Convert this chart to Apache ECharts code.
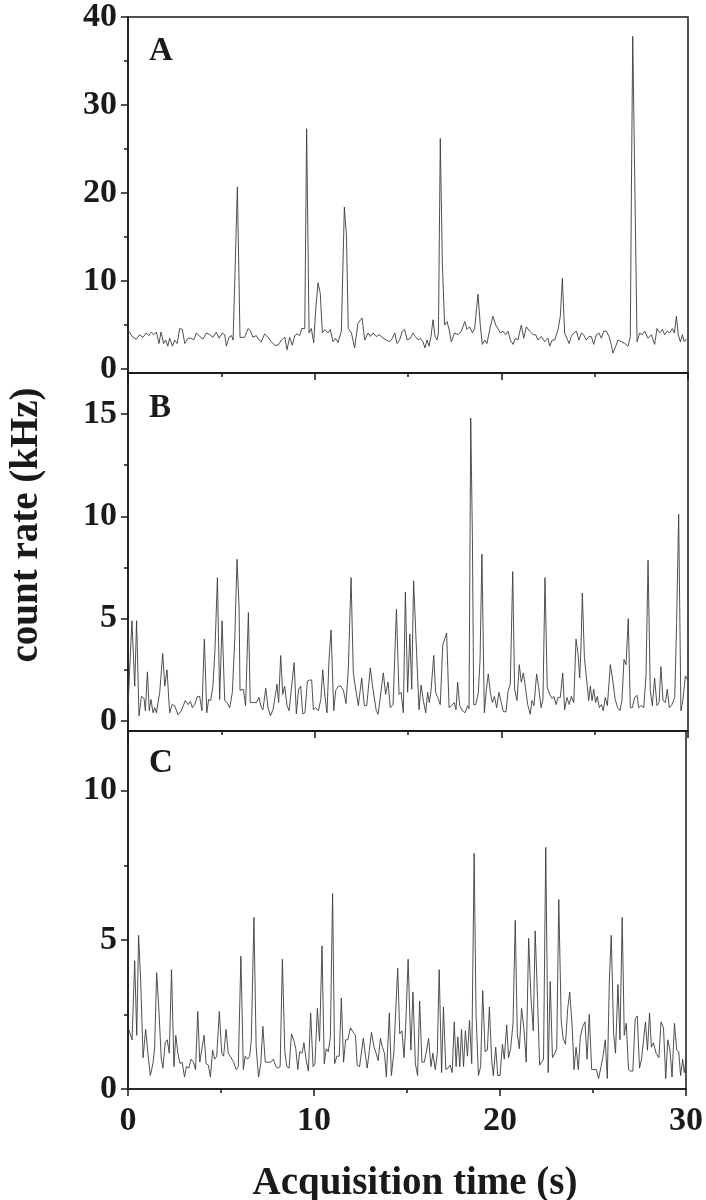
<!DOCTYPE html>
<html>
<head>
<meta charset="utf-8">
<script src="https://cdn.jsdelivr.net/npm/echarts@6/dist/echarts.min.js"></script>
<style>
  html, body { margin: 0; padding: 0; background: #fff; }
  #chart { width: 706px; height: 1200px; }
</style>
</head>
<body>
<div id="chart"></div>
<script>
// [time (s), count rate (kHz)]
const traceA = [
  [0.05,4.3],[0.26,3.6],[0.45,3.4],[0.62,3.9],[0.8,3.6],[0.98,4.1],[1.12,3.8],[1.25,4.2],[1.38,3.9],[1.52,4.2],
  [1.66,2.9],[1.77,4.2],[1.91,2.9],[2.02,3.3],[2.13,2.6],[2.23,3.5],[2.38,2.6],[2.5,3.3],[2.63,2.9],[2.77,4.6],
  [2.91,4.5],[3.04,2.9],[3.22,3.5],[3.39,3.5],[3.52,3.3],[3.66,4.1],[3.84,3.7],[4.02,3.4],[4.2,4.1],[4.38,3.9],
  [4.55,3.6],[4.73,4.2],[4.88,3.5],[5.06,4.1],[5.18,3.9],[5.27,2.6],[5.41,3.6],[5.54,3.8],[5.63,3.3],[5.73,3.3],
  [5.86,20.7],[6.0,3.6],[6.09,3.4],[6.25,3.6],[6.43,4.6],[6.55,4.4],[6.69,3.6],[6.87,3.8],[7.02,3.3],[7.14,3.1],
  [7.32,4.0],[7.5,3.6],[7.68,3.1],[7.86,2.7],[8.04,2.7],[8.22,3.3],[8.4,3.6],[8.52,2.2],[8.66,3.6],[8.8,2.7],
  [8.93,3.8],[9.07,4.0],[9.2,3.8],[9.3,4.6],[9.47,4.6],[9.57,27.3],[9.7,4.1],[9.82,4.6],[9.95,3.0],[10.05,6.6],
  [10.18,9.8],[10.3,8.6],[10.41,4.1],[10.54,4.5],[10.71,4.1],[10.84,4.5],[10.98,3.1],[11.12,3.5],[11.25,3.0],[11.43,4.3],
  [11.59,18.4],[11.7,15.3],[11.8,4.6],[11.97,4.1],[12.14,2.4],[12.32,5.2],[12.54,5.8],[12.68,3.3],[12.86,4.1],[12.98,3.7],
  [13.13,4.1],[13.3,3.7],[13.48,3.9],[13.66,3.5],[13.84,3.3],[14.02,3.1],[14.16,3.5],[14.29,4.1],[14.41,2.9],[14.55,3.3],
  [14.7,4.3],[14.82,4.5],[14.96,3.3],[15.13,3.5],[15.27,4.1],[15.39,3.7],[15.54,3.3],[15.66,3.5],[15.8,3.1],[15.91,2.4],
  [16.02,3.3],[16.13,2.6],[16.23,3.7],[16.34,5.6],[16.45,3.7],[16.55,3.3],[16.63,4.1],[16.73,26.2],[16.84,12.0],[16.96,5.0],
  [17.09,5.4],[17.2,4.5],[17.32,3.1],[17.5,4.1],[17.68,3.9],[17.86,4.3],[18.04,5.4],[18.16,4.5],[18.3,4.8],[18.45,4.1],
  [18.57,4.6],[18.75,8.5],[18.88,4.8],[18.98,2.8],[19.11,3.3],[19.23,2.9],[19.38,4.5],[19.55,6.0],[19.7,5.0],[19.82,4.6],
  [19.95,4.1],[20.09,4.3],[20.23,3.9],[20.36,4.3],[20.48,3.3],[20.63,2.8],[20.75,3.5],[20.89,3.3],[21.07,5.0],[21.2,3.5],
  [21.34,4.8],[21.52,4.3],[21.7,3.9],[21.84,3.9],[21.96,3.3],[22.14,3.7],[22.32,3.1],[22.5,3.5],[22.59,2.6],[22.73,3.3],
  [22.86,3.3],[23.04,4.5],[23.16,6.0],[23.27,10.3],[23.39,4.1],[23.48,4.3],[23.63,2.9],[23.75,3.7],[23.88,4.1],[24.02,4.3],
  [24.16,3.3],[24.29,4.1],[24.41,3.9],[24.55,3.3],[24.7,3.7],[24.82,3.7],[24.95,2.8],[25.09,3.9],[25.23,4.1],[25.36,3.5],
  [25.48,4.3],[25.63,4.3],[25.77,3.7],[25.89,2.8],[25.98,1.8],[26.13,2.6],[26.25,3.3],[26.43,3.1],[26.61,2.9],[26.79,2.6],
  [26.91,3.7],[26.98,23.5],[27.04,37.8],[27.27,3.1],[27.41,4.1],[27.55,3.9],[27.68,4.3],[27.86,3.5],[28.04,3.9],[28.21,2.8],
  [28.34,4.6],[28.48,4.1],[28.63,4.5],[28.75,3.9],[28.88,4.3],[29.02,4.1],[29.16,4.6],[29.27,4.1],[29.38,6.0],[29.48,3.9],
  [29.59,3.1],[29.7,3.9],[29.8,3.1],[29.91,3.4]
];

const traceB = [
  [0,0.7],[0.21,4.9],[0.36,1.7],[0.46,4.9],[0.59,0.25],[0.72,1.2],[0.86,1.1],[0.93,0.5],[1.04,2.4],[1.14,0.5],
  [1.23,1.05],[1.34,0.4],[1.43,0.65],[1.52,0.4],[1.61,0.4],[1.7,1.4],[1.86,3.3],[1.97,1.7],[2.09,2.5],[2.23,0.4],
  [2.36,0.8],[2.5,0.75],[2.68,0.3],[2.86,0.5],[3.07,1.0],[3.22,0.8],[3.34,0.95],[3.45,0.65],[3.57,0.8],[3.72,1.2],
  [3.84,1.2],[3.96,0.5],[4.09,4.0],[4.22,0.4],[4.32,1.05],[4.43,1.0],[4.55,1.7],[4.66,3.5],[4.79,7.0],[4.91,1.05],
  [5.04,4.9],[5.18,1.0],[5.3,0.9],[5.45,0.65],[5.59,1.4],[5.72,4.0],[5.84,7.9],[5.95,5.6],[6.0,1.5],[6.18,1.55],
  [6.3,0.75],[6.45,5.3],[6.55,0.9],[6.7,0.9],[6.88,0.9],[7.02,1.15],[7.14,0.65],[7.23,0.55],[7.38,1.6],[7.5,0.65],
  [7.63,0.25],[7.77,0.55],[7.9,1.3],[7.98,1.8],[8.07,0.9],[8.18,3.2],[8.29,1.3],[8.39,1.7],[8.52,0.75],[8.63,0.5],
  [8.75,1.55],[8.9,2.85],[9.02,0.35],[9.14,1.55],[9.25,1.7],[9.36,0.35],[9.48,0.4],[9.61,1.95],[9.73,2.0],[9.84,2.0],
  [9.93,0.55],[10.05,0.65],[10.2,0.5],[10.33,1.05],[10.43,2.5],[10.55,1.2],[10.66,0.4],[10.77,3.0],[10.88,4.45],[11.02,0.5],
  [11.13,1.5],[11.27,1.7],[11.41,1.7],[11.54,1.5],[11.68,0.85],[11.8,2.5],[11.95,7.0],[12.07,2.35],[12.2,1.55],[12.34,0.75],
  [12.52,2.1],[12.66,0.75],[12.79,0.75],[12.98,2.6],[13.1,1.7],[13.3,0.5],[13.4,0.33],[13.68,2.35],[13.8,1.3],[13.93,1.9],
  [14.05,0.65],[14.2,0.8],[14.38,5.45],[14.52,1.3],[14.63,1.4],[14.75,0.4],[14.86,6.3],[14.98,1.4],[15.1,4.25],[15.2,1.55],
  [15.3,6.85],[15.46,3.35],[15.59,0.55],[15.7,1.75],[15.82,1.0],[15.95,0.4],[16.05,1.4],[16.14,0.9],[16.23,1.45],[16.38,3.2],
  [16.48,1.4],[16.59,1.15],[16.73,0.8],[16.86,3.7],[17.07,4.3],[17.2,0.65],[17.34,0.75],[17.48,0.9],[17.57,0.55],[17.66,1.9],
  [17.77,0.75],[17.91,0.5],[18.05,0.4],[18.2,0.75],[18.27,0.6],[18.36,14.8],[18.45,9.0],[18.52,0.8],[18.63,0.8],[18.77,1.4],
  [18.86,3.0],[18.96,8.15],[19.09,0.4],[19.2,1.55],[19.3,2.3],[19.41,1.4],[19.52,0.9],[19.63,1.2],[19.75,0.65],[19.87,1.4],
  [20.0,0.9],[20.11,0.45],[20.25,0.45],[20.36,1.45],[20.48,1.8],[20.61,7.3],[20.71,1.55],[20.84,1.0],[20.96,2.75],[21.07,1.9],
  [21.18,2.35],[21.29,1.65],[21.41,0.8],[21.55,0.33],[21.64,1.0],[21.75,0.75],[21.89,2.3],[22.0,1.65],[22.13,0.65],[22.23,1.05],
  [22.34,7.0],[22.46,1.65],[22.59,1.3],[22.71,1.1],[22.82,1.2],[22.93,0.8],[23.04,1.15],[23.16,1.15],[23.29,2.35],[23.39,0.55],
  [23.52,1.15],[23.64,0.8],[23.75,1.2],[23.88,0.9],[24.0,4.0],[24.11,3.25],[24.2,2.1],[24.27,3.7],[24.34,6.25],[24.45,3.1],
  [24.55,3.05],[24.68,1.0],[24.77,1.7],[24.86,1.0],[24.95,1.55],[25.05,0.9],[25.14,1.2],[25.25,0.65],[25.36,0.8],[25.46,0.5],
  [25.57,1.15],[25.68,0.75],[25.84,2.75],[25.96,2.05],[26.1,1.05],[26.23,0.65],[26.36,0.5],[26.46,1.0],[26.57,3.0],[26.68,2.75],
  [26.8,5.0],[26.91,0.65],[27.02,0.65],[27.14,1.15],[27.27,1.25],[27.36,0.65],[27.5,0.75],[27.63,0.65],[27.75,2.2],[27.86,7.85],
  [27.98,1.45],[28.09,0.75],[28.21,2.1],[28.34,0.75],[28.45,0.9],[28.55,2.65],[28.66,1.0],[28.79,0.9],[28.89,1.55],[29.0,0.65],
  [29.14,0.8],[29.29,1.15],[29.39,4.8],[29.5,10.1],[29.62,0.5],[29.73,1.05],[29.86,2.2],[29.98,2.0]
];

const traceC = [
  [0.04,2.0],[0.22,1.65],[0.36,4.3],[0.47,1.8],[0.57,5.15],[0.68,3.65],[0.81,1.05],[0.95,2.0],[1.07,1.2],[1.2,0.45],
  [1.34,0.85],[1.43,1.35],[1.54,3.9],[1.66,2.65],[1.79,1.0],[1.88,0.7],[2.0,1.55],[2.11,1.65],[2.22,1.2],[2.34,4.0],
  [2.47,0.75],[2.57,1.8],[2.68,1.2],[2.8,0.85],[2.91,0.9],[3.04,0.4],[3.14,0.75],[3.27,0.7],[3.39,1.0],[3.52,0.9],
  [3.63,0.65],[3.75,2.6],[3.86,0.9],[3.96,0.85],[4.09,1.8],[4.2,0.85],[4.32,0.8],[4.43,0.4],[4.55,1.3],[4.66,1.0],
  [4.77,1.1],[4.91,2.6],[5.04,1.2],[5.14,1.1],[5.27,2.0],[5.39,1.2],[5.54,1.05],[5.68,0.9],[5.82,0.65],[5.93,0.75],
  [6.07,4.45],[6.2,0.65],[6.3,1.1],[6.43,1.0],[6.54,1.1],[6.63,1.65],[6.77,5.75],[6.89,1.4],[7.02,0.4],[7.14,0.85],
  [7.25,2.1],[7.38,0.9],[7.54,0.9],[7.68,0.9],[7.82,1.0],[7.95,0.75],[8.07,0.7],[8.18,0.75],[8.3,4.35],[8.43,1.25],
  [8.54,0.75],[8.66,0.7],[8.79,1.85],[8.93,1.6],[9.02,1.35],[9.13,0.65],[9.23,1.25],[9.36,1.2],[9.46,1.55],[9.57,1.0],
  [9.7,0.6],[9.82,2.55],[9.95,0.75],[10.05,0.85],[10.18,2.7],[10.3,1.6],[10.43,4.8],[10.55,0.85],[10.66,1.35],[10.77,1.25],
  [10.88,1.75],[11.0,6.55],[11.11,0.85],[11.23,1.1],[11.36,1.1],[11.47,3.05],[11.59,0.9],[11.7,1.65],[11.82,1.65],[11.96,2.05],
  [12.11,1.9],[12.23,1.8],[12.32,0.8],[12.45,0.75],[12.55,0.8],[12.65,1.7],[12.75,1.2],[12.86,0.7],[12.98,1.3],[13.09,1.9],
  [13.23,1.4],[13.34,1.2],[13.45,0.95],[13.57,1.7],[13.68,1.4],[13.79,1.2],[13.89,0.4],[13.96,0.42],[14.05,2.55],[14.16,0.45],
  [14.29,1.2],[14.39,1.2],[14.5,4.05],[14.61,1.85],[14.73,1.95],[14.84,1.05],[14.93,2.1],[15.06,4.35],[15.21,1.3],[15.32,3.25],
  [15.45,0.85],[15.57,0.45],[15.68,2.95],[15.8,0.9],[15.93,0.9],[16.07,1.35],[16.16,1.7],[16.29,0.75],[16.39,1.2],[16.52,0.65],
  [16.63,1.2],[16.73,4.0],[16.86,0.55],[16.96,2.75],[17.09,0.65],[17.2,0.7],[17.32,0.8],[17.43,0.55],[17.54,2.25],[17.64,0.75],
  [17.73,1.75],[17.84,0.75],[17.93,2.0],[18.04,0.75],[18.14,1.95],[18.25,1.1],[18.36,2.3],[18.48,0.85],[18.61,7.9],[18.71,2.55],
  [18.84,0.45],[18.96,0.75],[19.07,3.3],[19.2,1.25],[19.32,1.3],[19.43,2.75],[19.55,1.0],[19.64,0.45],[19.77,1.4],[19.88,0.45],
  [20.0,0.45],[20.13,1.5],[20.23,1.0],[20.36,2.15],[20.46,1.05],[20.57,1.35],[20.7,2.2],[20.82,5.65],[20.93,1.85],[21.04,1.35],
  [21.16,2.7],[21.29,2.0],[21.41,0.9],[21.54,5.05],[21.66,3.1],[21.79,1.95],[21.89,5.3],[22.02,3.0],[22.13,0.8],[22.23,0.75],
  [22.34,1.0],[22.46,8.1],[22.59,0.55],[22.7,3.6],[22.82,1.05],[22.95,1.2],[23.05,1.35],[23.16,6.35],[23.29,2.3],[23.39,1.7],
  [23.52,1.5],[23.64,2.7],[23.75,3.25],[23.88,2.1],[23.98,0.65],[24.09,1.4],[24.21,0.65],[24.32,1.75],[24.45,2.1],[24.57,2.25],
  [24.68,1.0],[24.8,2.5],[24.93,0.65],[25.05,0.65],[25.18,0.65],[25.3,0.35],[25.43,0.75],[25.54,1.1],[25.66,1.65],[25.77,0.35],
  [25.88,3.65],[25.98,5.15],[26.11,1.85],[26.21,1.2],[26.34,3.5],[26.45,1.65],[26.57,5.75],[26.68,1.8],[26.79,2.2],[26.91,0.65],
  [27.02,0.6],[27.14,0.6],[27.27,2.35],[27.38,2.45],[27.5,0.7],[27.61,1.0],[27.71,1.05],[27.82,2.25],[27.93,1.3],[28.04,2.55],
  [28.14,1.4],[28.25,1.55],[28.39,1.2],[28.54,1.05],[28.66,2.25],[28.79,2.05],[28.91,0.35],[29.02,1.65],[29.14,1.3],[29.25,0.4],
  [29.38,2.2],[29.5,1.3],[29.61,1.25],[29.71,0.45],[29.82,1.0],[29.91,0.55],[30.0,1.0]
];

// tick values for each panel's y axis
const ticksA = [0, 10, 20, 30, 40];
const minorA = [5, 15, 25, 35];
const ticksB = [0, 5, 10, 15];
const minorB = [2.5, 7.5, 12.5];
const ticksC = [0, 5, 10];
const minorC = [2.5, 7.5];
const panelNames = ['A', 'B', 'C'];

const FONT = '"Liberation Serif", "Times New Roman", serif';
const INK = '#1a1a1a';

// panel layout (px) and y ranges
const panels = [
    { data: traceA, min: -0.45, max: 40, ticks: ticksA, minor: minorA, top: 16, height: 357 },
    { data: traceB, min: -0.49, max: 17, ticks: ticksB, minor: minorB, top: 373, height: 358 },
    { data: traceC, min: 0, max: 12, ticks: ticksC, minor: minorC, top: 731, height: 358 }
];

const axisLineStyle = { color: INK, width: 1.5 };

let grid = [], xAxis = [], yAxis = [], series = [];
panels.forEach((p, i) => {
    grid.push({
        left: 128, width: 560, top: p.top, height: p.height,
        show: true, borderColor: INK, borderWidth: 1.5
    });
    xAxis.push({
        type: 'value', gridIndex: i, min: 0, max: 30, interval: 10,
        axisLine: { show: true, onZero: false, lineStyle: axisLineStyle },
        axisTick: { show: true, inside: false, length: 7, lineStyle: axisLineStyle },
        minorTick: { show: true, splitNumber: 2, length: 4, lineStyle: axisLineStyle },
        splitLine: { show: false },
        axisLabel: {
            show: i === panels.length - 1, margin: 15,
            fontFamily: FONT, fontWeight: 'bold', fontSize: 34, color: INK
        }
    });
    // major ticks + labels
    yAxis.push({
        type: 'value', gridIndex: i, min: p.min, max: p.max, position: 'left',
        axisLine: { show: true, onZero: false, lineStyle: axisLineStyle },
        axisTick: { show: true, inside: false, length: 7, customValues: p.ticks, lineStyle: axisLineStyle },
        axisLabel: {
            customValues: p.ticks, margin: 11,
            fontFamily: FONT, fontWeight: 'bold', fontSize: 34, color: INK
        },
        splitLine: { show: false }
    });
    // minor ticks only
    yAxis.push({
        type: 'value', gridIndex: i, min: p.min, max: p.max, position: 'left',
        axisLine: { show: false },
        axisTick: { show: true, inside: false, length: 4, customValues: p.minor, lineStyle: axisLineStyle },
        axisLabel: { show: false },
        splitLine: { show: false }
    });
    series.push({
        type: 'line', xAxisIndex: i, yAxisIndex: 2 * i,
        data: p.data, showSymbol: false, symbol: 'none',
        lineStyle: { color: '#3c3c3c', width: 0.9 },
        animation: false
    });
});

const labelTops = [35, 392, 747];
const graphic = panelNames.map((name, i) => ({
    type: 'text', x: 149, y: labelTops[i],
    style: { text: name, fontFamily: FONT, fontWeight: 'bold', fontSize: 33, fill: INK, verticalAlign: 'top' }
}));
graphic.push({
    type: 'text', x: 27, y: 525, rotation: Math.PI / 2,
    style: { text: 'count rate (kHz)', fontFamily: FONT, fontWeight: 'bold', fontSize: 39, fill: INK, align: 'center', verticalAlign: 'middle' }
});
graphic.push({
    type: 'text', x: 415, y: 1184,
    style: { text: 'Acquisition time (s)', fontFamily: FONT, fontWeight: 'bold', fontSize: 39, fill: INK, align: 'center', verticalAlign: 'middle' }
});

let myChart = echarts.init(document.getElementById('chart'), null, { renderer: 'canvas' });
myChart.setOption({
    backgroundColor: '#fff',
    animation: false,
    grid: grid,
    xAxis: xAxis,
    yAxis: yAxis,
    series: series,
    graphic: graphic
});
</script>
</body>
</html>
